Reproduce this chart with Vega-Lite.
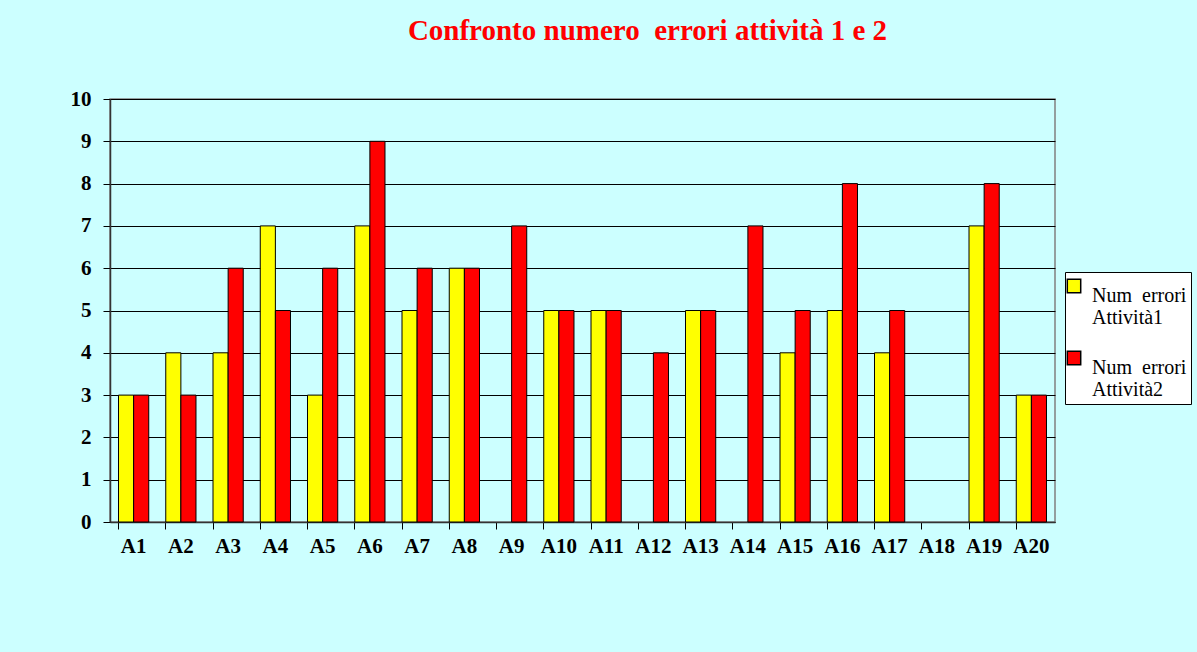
{
  "$schema": "https://vega.github.io/schema/vega-lite/v6.json",
  "width": 945,
  "height": 423,
  "autosize": {"type": "none"},
  "padding": {"left": 110, "top": 99, "right": 142, "bottom": 130},
  "background": "#CCFFFF",
  "title": {
    "text": "Confronto numero \u00a0errori attività 1 e 2",
    "color": "#FF0000",
    "font": "Liberation Serif",
    "fontSize": 29,
    "fontWeight": "bold",
    "anchor": "middle",
    "dx": 65,
    "offset": 42
  },
  "config": {
    "view": {"stroke": "#808080", "strokeWidth": 1.5},
    "font": "Liberation Serif"
  },
  "data": {
    "values": [
      {"cat": "A1", "serie": "Num errori Attività1", "v": 3},
      {"cat": "A1", "serie": "Num errori Attività2", "v": 3},
      {"cat": "A2", "serie": "Num errori Attività1", "v": 4},
      {"cat": "A2", "serie": "Num errori Attività2", "v": 3},
      {"cat": "A3", "serie": "Num errori Attività1", "v": 4},
      {"cat": "A3", "serie": "Num errori Attività2", "v": 6},
      {"cat": "A4", "serie": "Num errori Attività1", "v": 7},
      {"cat": "A4", "serie": "Num errori Attività2", "v": 5},
      {"cat": "A5", "serie": "Num errori Attività1", "v": 3},
      {"cat": "A5", "serie": "Num errori Attività2", "v": 6},
      {"cat": "A6", "serie": "Num errori Attività1", "v": 7},
      {"cat": "A6", "serie": "Num errori Attività2", "v": 9},
      {"cat": "A7", "serie": "Num errori Attività1", "v": 5},
      {"cat": "A7", "serie": "Num errori Attività2", "v": 6},
      {"cat": "A8", "serie": "Num errori Attività1", "v": 6},
      {"cat": "A8", "serie": "Num errori Attività2", "v": 6},
      {"cat": "A9", "serie": "Num errori Attività2", "v": 7},
      {"cat": "A10", "serie": "Num errori Attività1", "v": 5},
      {"cat": "A10", "serie": "Num errori Attività2", "v": 5},
      {"cat": "A11", "serie": "Num errori Attività1", "v": 5},
      {"cat": "A11", "serie": "Num errori Attività2", "v": 5},
      {"cat": "A12", "serie": "Num errori Attività2", "v": 4},
      {"cat": "A13", "serie": "Num errori Attività1", "v": 5},
      {"cat": "A13", "serie": "Num errori Attività2", "v": 5},
      {"cat": "A14", "serie": "Num errori Attività2", "v": 7},
      {"cat": "A15", "serie": "Num errori Attività1", "v": 4},
      {"cat": "A15", "serie": "Num errori Attività2", "v": 5},
      {"cat": "A16", "serie": "Num errori Attività1", "v": 5},
      {"cat": "A16", "serie": "Num errori Attività2", "v": 8},
      {"cat": "A17", "serie": "Num errori Attività1", "v": 4},
      {"cat": "A17", "serie": "Num errori Attività2", "v": 5},
      {"cat": "A19", "serie": "Num errori Attività1", "v": 7},
      {"cat": "A19", "serie": "Num errori Attività2", "v": 8},
      {"cat": "A20", "serie": "Num errori Attività1", "v": 3},
      {"cat": "A20", "serie": "Num errori Attività2", "v": 3}
    ]
  },
  "mark": {"type": "bar", "stroke": "#000000", "strokeWidth": 1},
  "encoding": {
    "x": {
      "field": "cat",
      "type": "nominal",
      "sort": null,
      "scale": {
        "domain": ["A1","A2","A3","A4","A5","A6","A7","A8","A9","A10","A11","A12","A13","A14","A15","A16","A17","A18","A19","A20"],
        "paddingInner": 0.36,
        "paddingOuter": 0.18
      },
      "axis": {
        "title": null,
        "labelAngle": 0,
        "labelFont": "Liberation Serif",
        "labelFontSize": 21,
        "labelFontWeight": "bold",
        "labelColor": "#000000",
        "labelPadding": 6,
        "labelOverlap": false,
        "bandPosition": 0,
        "tickSize": 7,
        "tickColor": "#000000",
        "domainColor": "#333333",
        "domainWidth": 1.5,
        "grid": false
      }
    },
    "xOffset": {
      "field": "serie",
      "type": "nominal",
      "scale": {"domain": ["Num errori Attività1", "Num errori Attività2"], "paddingInner": 0, "paddingOuter": 0}
    },
    "y": {
      "field": "v",
      "type": "quantitative",
      "scale": {"domain": [0, 10], "nice": false},
      "axis": {
        "title": null,
        "values": [0,1,2,3,4,5,6,7,8,9,10],
        "labelOverlap": false,
        "labelFont": "Liberation Serif",
        "labelFontSize": 21,
        "labelFontWeight": "bold",
        "labelColor": "#000000",
        "labelPadding": 12,
        "tickSize": 7,
        "tickColor": "#000000",
        "domainColor": "#333333",
        "domainWidth": 1.5,
        "grid": true,
        "gridColor": "#000000",
        "gridOpacity": 1,
        "gridWidth": 1
      }
    },
    "color": {
      "field": "serie",
      "type": "nominal",
      "scale": {"domain": ["Num errori Attività1", "Num errori Attività2"], "range": ["#FFFF00", "#FF0000"]},
      "legend": {
        "title": null,
        "orient": "none",
        "legendX": 955,
        "legendY": 173,
        "fillColor": "#FFFFFF",
        "strokeColor": "#000000",
        "padding": 4,
        "symbolType": "square",
        "symbolSize": 180,
        "symbolOffset": -5,
        "symbolStrokeColor": "#000000",
        "symbolStrokeWidth": 1.5,
        "symbolOpacity": 1,
        "labelFont": "Liberation Serif",
        "labelFontSize": 20,
        "labelColor": "#000000",
        "labelOffset": 8,
        "labelLimit": 200,
        "labelBaseline": "top",
        "rowPadding": 20,
        "labelExpr": "['Num \u00a0errori', replace(datum.label, 'Num errori ', '')]"
      }
    }
  }
}
